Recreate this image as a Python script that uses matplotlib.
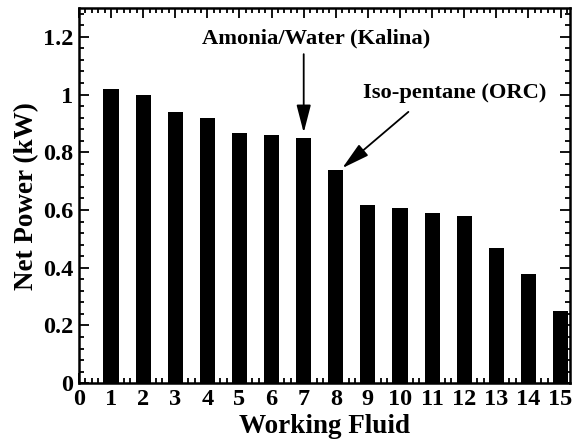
import numpy as np
import matplotlib
matplotlib.use('Agg')
import matplotlib.pyplot as plt
from matplotlib.ticker import MultipleLocator

# Data
fluids = np.arange(1, 16)
net_power = [1.02, 1.00, 0.94, 0.92, 0.868, 0.861, 0.851, 0.74,
             0.618, 0.608, 0.59, 0.58, 0.469, 0.378, 0.25]
x_ticks = list(range(0, 16))
y_ticks = [0, 0.2, 0.4, 0.6, 0.8, 1, 1.2]
y_tick_labels = ['0', '0.2', '0.4', '0.6', '0.8', '1', '1.2']

plt.rcParams['font.family'] = ['Liberation Serif', 'DejaVu Serif']
plt.rcParams['font.weight'] = 'bold'

fig = plt.figure(figsize=(5.76, 4.43), dpi=100)
ax = fig.add_axes([0.137, 0.135, 0.853, 0.847])

ax.bar(fluids, net_power, width=0.47, color='black')

ax.set_xlim(0, 15.3)
ax.set_ylim(0, 1.3)
ax.set_xticks(x_ticks)
ax.set_xticklabels([str(t) for t in x_ticks])
ax.set_yticks(y_ticks)
ax.set_yticklabels(y_tick_labels)
ax.xaxis.set_minor_locator(MultipleLocator(0.2))
ax.yaxis.set_minor_locator(MultipleLocator(0.04))
ax.tick_params(which='both', direction='in', top=True, right=True, width=1.3,
               labelsize=17.5, pad=4)
ax.tick_params(which='major', length=7)
ax.tick_params(which='minor', length=3.5)
for sp in ax.spines.values():
    sp.set_linewidth(1.8)

ax.set_xlabel('Working Fluid', fontsize=19.5, fontweight='bold', labelpad=3)
ax.set_ylabel('Net Power (kW)', fontsize=19.5, fontweight='bold', labelpad=3)

# Annotations: labels and arrows drawn separately
ax.text(7.39, 1.195, 'Amonia/Water (Kalina)', ha='center', va='center',
        fontsize=16.2, fontweight='bold')
ax.text(11.69, 1.005, 'Iso-pentane (ORC)', ha='center', va='center',
        fontsize=16.2, fontweight='bold')
arrow = dict(arrowstyle='-|>,head_length=0.85,head_width=0.22', color='black',
             lw=1.3, mutation_scale=20, shrinkA=0, shrinkB=0)
ax.annotate('', xy=(7.0, 0.868), xytext=(7.0, 1.14), arrowprops=arrow)
ax.annotate('', xy=(8.2, 0.745), xytext=(10.26, 0.94), arrowprops=arrow)

fig.savefig('out.png', dpi=100)
